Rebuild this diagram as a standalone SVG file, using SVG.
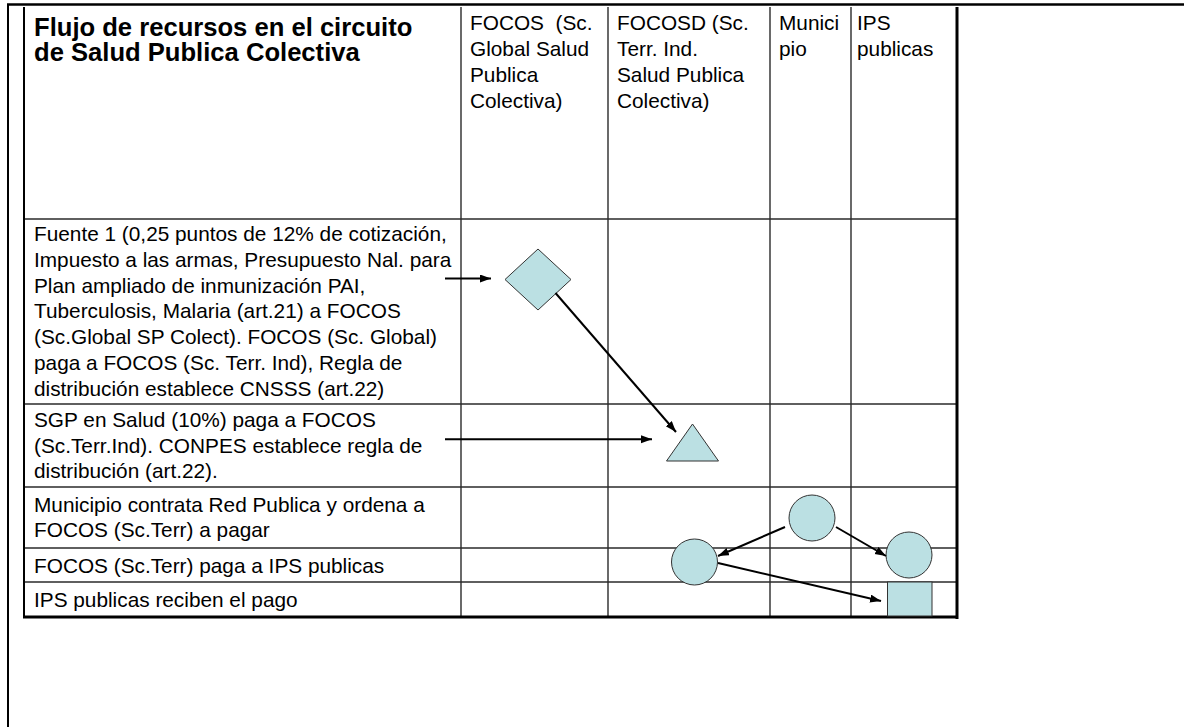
<svg xmlns="http://www.w3.org/2000/svg" width="1184" height="727" viewBox="0 0 1184 727">
<style>
  text { font-family: "Liberation Sans", Arial, sans-serif; fill: #000; }
  .t { font-size: 25.6px; font-weight: bold; }
  .c { font-size: 20.8px; white-space: pre; }
  .grid { stroke: #2a2a2a; stroke-width: 1.4; fill: none; }
  .thick { stroke: #000; fill: none; }
  .shape { fill: #BBE0E3; stroke: #333; stroke-width: 1; }
  .conn { stroke: #000; stroke-width: 2; fill: none; marker-end: url(#arr); }
</style>
<defs>
  <marker id="arr" markerUnits="userSpaceOnUse" markerWidth="12" markerHeight="9" refX="11" refY="4" orient="auto">
    <path d="M0,0 L11,4 L0,8 z" fill="#000"/>
  </marker>
</defs>
<rect width="1184" height="727" fill="#fff"/>
<g id="frame">
  <line class="thick" x1="7" y1="4.5" x2="1184" y2="4.5" stroke-width="2.5"/>
  <line class="thick" x1="8" y1="4" x2="8" y2="727" stroke-width="2"/>
</g>
<g id="table">
  <line class="grid" x1="461" y1="7" x2="461" y2="617"/>
  <line class="grid" x1="608" y1="7" x2="608" y2="617"/>
  <line class="grid" x1="770" y1="7" x2="770" y2="617"/>
  <line class="grid" x1="851" y1="7" x2="851" y2="617"/>
  <line class="grid" x1="24" y1="219" x2="957" y2="219"/>
  <line class="grid" x1="24" y1="404" x2="957" y2="404"/>
  <line class="grid" x1="24" y1="487" x2="957" y2="487"/>
  <line class="grid" x1="24" y1="548" x2="957" y2="548"/>
  <line class="grid" x1="24" y1="582" x2="957" y2="582"/>
  <line class="thick" x1="24" y1="7" x2="24" y2="618" stroke-width="2"/>
  <line class="thick" x1="957" y1="7" x2="957" y2="619" stroke-width="3"/>
  <line class="thick" x1="23" y1="617" x2="958" y2="617" stroke-width="3"/>
</g>
<g id="header-title">
  <text class="t" x="34" y="35.5">Flujo de recursos en el circuito</text>
  <text class="t" x="34" y="61">de Salud Publica Colectiva</text>
</g>
<g id="header-focos">
  <text class="c" x="470" y="30">FOCOS  (Sc.</text>
  <text class="c" x="470" y="56">Global Salud</text>
  <text class="c" x="470" y="82">Publica</text>
  <text class="c" x="470" y="108">Colectiva)</text>
</g>
<g id="header-focosd">
  <text class="c" x="617" y="30">FOCOSD (Sc.</text>
  <text class="c" x="617" y="56">Terr. Ind.</text>
  <text class="c" x="617" y="82">Salud Publica</text>
  <text class="c" x="617" y="108">Colectiva)</text>
</g>
<g id="header-municipio">
  <text class="c" x="779" y="30">Munici</text>
  <text class="c" x="779" y="56">pio</text>
</g>
<g id="header-ips">
  <text class="c" x="857" y="30">IPS</text>
  <text class="c" x="857" y="56">publicas</text>
</g>
<g id="row1">
  <text class="c" x="34" y="241">Fuente 1 (0,25 puntos de 12% de cotización,</text>
  <text class="c" x="34" y="266.8">Impuesto a las armas, Presupuesto Nal. para</text>
  <text class="c" x="34" y="292.6">Plan ampliado de inmunización PAI,</text>
  <text class="c" x="34" y="318.4">Tuberculosis, Malaria (art.21) a FOCOS</text>
  <text class="c" x="34" y="344.2">(Sc.Global SP Colect). FOCOS (Sc. Global)</text>
  <text class="c" x="34" y="370">paga a FOCOS (Sc. Terr. Ind), Regla de</text>
  <text class="c" x="34" y="395.8">distribución establece CNSSS (art.22)</text>
</g>
<g id="row2">
  <text class="c" x="34" y="426.7">SGP en Salud (10%) paga a FOCOS</text>
  <text class="c" x="34" y="452.5">(Sc.Terr.Ind). CONPES establece regla de</text>
  <text class="c" x="34" y="478.3">distribución (art.22).</text>
</g>
<g id="row3">
  <text class="c" x="34" y="511.6">Municipio contrata Red Publica y ordena a</text>
  <text class="c" x="34" y="537.4">FOCOS (Sc.Terr) a pagar</text>
</g>
<g id="row4">
  <text class="c" x="34" y="572.5">FOCOS (Sc.Terr) paga a IPS publicas</text>
</g>
<g id="row5">
  <text class="c" x="34" y="607">IPS publicas reciben el pago</text>
</g>
<g id="diamond">
  <polygon class="shape" points="505,279.5 538,249 571,279.5 538,310"/>
</g>
<g id="triangle">
  <polygon class="shape" points="692.5,424 718.5,461 666.5,461"/>
</g>
<g id="circle-municipio">
  <circle class="shape" cx="812" cy="518" r="23"/>
</g>
<g id="circle-focos">
  <circle class="shape" cx="694.5" cy="562" r="23"/>
</g>
<g id="circle-ips">
  <circle class="shape" cx="909" cy="555" r="23"/>
</g>
<g id="square-ips">
  <rect class="shape" x="887.5" y="582" width="44.5" height="34"/>
</g>
<g id="connectors">
  <line class="conn" x1="445" y1="278.5" x2="491" y2="278.5"/>
  <line class="conn" x1="555.5" y1="293" x2="676" y2="432"/>
  <line class="conn" x1="445" y1="439.3" x2="652" y2="439.3"/>
  <line class="conn" x1="785" y1="527" x2="718" y2="556"/>
  <line class="conn" x1="836" y1="527" x2="886" y2="556"/>
  <line class="conn" x1="718" y1="563" x2="881" y2="601"/>
</g>
</svg>
